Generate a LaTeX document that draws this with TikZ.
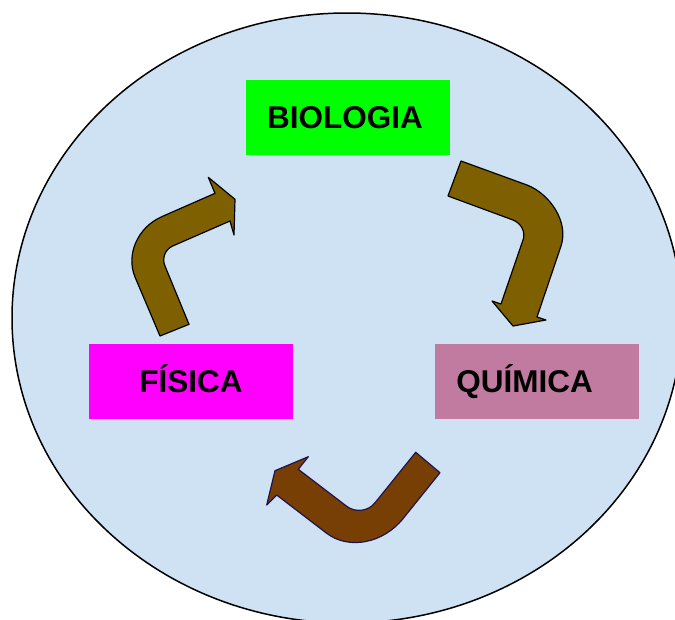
\documentclass[tikz,border=0pt]{standalone}
\usepackage{fontspec}
\setmainfont{Liberation Sans}
\definecolor{BgClr}{RGB}{207,226,243}
\definecolor{BioClr}{RGB}{0,255,0}
\definecolor{FisClr}{RGB}{255,0,255}
\definecolor{QuiClr}{RGB}{194,123,160}
\definecolor{ArrowClr}{RGB}{127,96,0}
\definecolor{ArrowDkClr}{RGB}{120,63,4}
\definecolor{ArrowLineClr}{RGB}{32,18,77}

\tikzset{
  caixa/.style={minimum width=204pt,minimum height=75pt,inner sep=0pt,
    text height=22.5pt,text depth=0pt,font=\fontsize{31.5}{38}\selectfont\bfseries},
  seta/.style={fill=ArrowClr,draw=black,line width=1.2pt,line join=round}
}

\begin{document}
\begin{tikzpicture}[x=1pt,y=-1pt]
\useasboundingbox (0,0) rectangle (675,619);
\clip (0,0) rectangle (675,619);

% Fundo elíptico.
\draw[fill=BgClr,line width=1.5pt] (347,318) ellipse [x radius=335pt,y radius=305pt];

% As três ciências.
\node[caixa,fill=BioClr] (bio) at (348,117.5) {BIOLOGIA\hspace*{6pt}};
\node[caixa,fill=FisClr] (fis) at (191,381.5) {FÍSICA};
\node[caixa,fill=QuiClr] (qui) at (537,381.5) {QUÍMICA\hspace*{25pt}};

% Seta da Biologia para a Química.
\draw[seta] (461,161) -- (527,185) .. controls (550,194) and (569,222) .. (561,246)
  -- (537,317) -- (546,320) -- (513,326) -- (492,301) -- (501,304) -- (523,240)
  .. controls (526,232) and (521,223) .. (513,220) -- (448,196) -- cycle;

% Seta da Física para a Biologia.
\draw[seta] (160,336) -- (135,277) .. controls (125.7,254.5) and (137.7,227.3) .. (161.7,216.7)
  -- (215,193.3) -- (208.3,177.3) -- (235,199.3) -- (234,235) -- (230,221) -- (172.7,246)
  .. controls (165.2,249.3) and (161.7,258.2) .. (164.9,265.8) -- (189,324.3) -- cycle;

% Seta da Química para a Física.
\draw[seta,fill=ArrowDkClr,draw=ArrowLineClr] (440,472.7) -- (403.3,518.3)
  .. controls (383.3,543.4) and (348.9,550.1) .. (326.7,533.3) -- (276.7,495) -- (266.7,505)
  -- (275,470.7) -- (308.3,456.7) -- (298.3,469.3) -- (346.6,506.2)
  .. controls (355.3,512.9) and (368.1,511.4) .. (375,502.8) -- (415.7,452.3) -- cycle;

\end{tikzpicture}
\end{document}
